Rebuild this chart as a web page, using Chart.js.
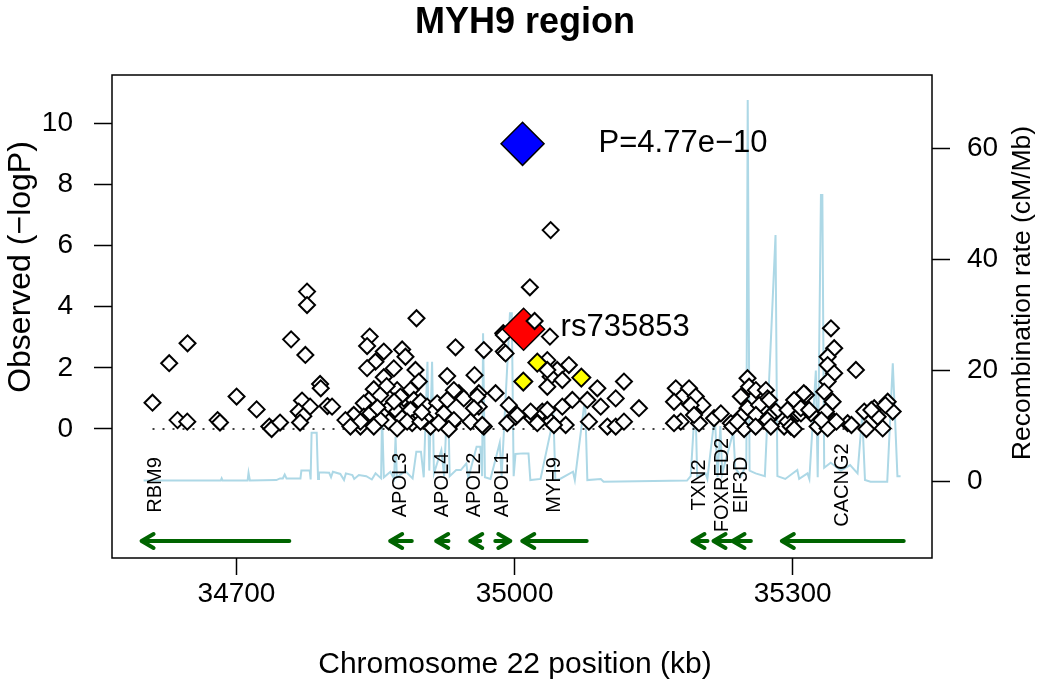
<!DOCTYPE html>
<html>
<head>
<meta charset="utf-8">
<script src="https://cdn.jsdelivr.net/npm/chart.js@4.4.0/dist/chart.umd.min.js"></script>
<style>
  html, body { margin: 0; padding: 0; background: #fff; }
  #wrap { width: 1050px; height: 693px; }
</style>
</head>
<body>
<div id="wrap"><canvas id="regionChart" width="1050" height="693"></canvas></div>
<script>
const FONT = "'Liberation Sans', Arial, Helvetica, sans-serif";

// Axis ticks
const xTicks = [34700, 35000, 35300];
const pTicks = [0, 2, 4, 6, 8, 10];
const rateTicks = [0, 20, 40, 60];

// Highlighted SNPs
const combinedPos = [35008.6];
const combinedLogP = [9.32];
const indexPos = [35009.7];
const indexLogP = [3.26];
const proxyPos = [35024.5, 35009.4, 35072.0];
const proxyLogP = [2.17, 1.55, 1.68];
const overlapPos = [35021.6];
const overlapLogP = [3.53];

// Other SNPs (position kb, -log10 P)
const snpPos = [
  34609.4, 34627.4, 34647.2, 34636.4, 34646.9, 34679.6, 34682.2, 34700.1, 34721.7, 34735.4,
  34737.9, 34747.0, 34758.9, 34774.3, 34776.1, 34776.1, 34790.2, 34790.9, 34770.7, 34779.4,
  34767.1, 34798.1, 34772.1, 34768.6, 34803.1,
  34894.2, 34843.7, 34840.9, 34858.9, 34878.7, 34882.3, 34849.9, 34840.9, 34869.7, 34893.1,
  34858.9, 34896.7, 34848.1, 34873.3, 34887.7, 34842.7, 34880.5, 34876.9, 34891.3, 34837.3,
  34866.1, 34898.5, 34905.7, 34916.5, 34824.7, 34837.3, 34826.5, 34844.5, 34873.3, 34887.7,
  34911.1, 34833.7, 34848.1, 34864.3, 34878.7, 34889.5, 34909.3, 34903.9, 34817.5, 34833.7,
  34855.3, 34884.1, 34898.5, 34822.9, 34848.1, 34873.3, 34923.7, 34927.3, 34936.3, 34939.9,
  34932.7, 34956.8, 34966.8, 34961.4, 34961.4, 34952.5, 34966.8, 34979.5, 34988.4, 34987.8,
  34993.8, 34992.1, 34934.5, 34927.3, 34945.2, 34959.7, 34956.1, 34934.5, 34965.1, 34929.0,
  34862.0, 34855.0, 34870.0, 34852.0, 34900.0, 34918.0,
  35038.9, 35016.5, 35038.1, 34988.4, 34990.3, 35035.3, 35058.6, 35046.0, 35038.9, 35051.5,
  35118.0, 35089.3, 35035.3, 35062.3, 35078.5, 35109.1, 35092.9, 35134.2, 35051.5, 35029.9,
  35001.1, 35019.1, 35038.9, 35055.1, 35080.2, 35100.1, 35109.1, 35118.0, 35002.9, 35017.3,
  35035.3, 35024.5, 35042.4, 35035.3,
  35173.9, 35181.1, 35188.2, 35172.0, 35195.5, 35202.7, 35189.9, 35179.3, 35199.0, 35193.6,
  35215.2, 35222.5, 35233.3, 35251.3, 35253.0, 35244.1, 35260.3, 35271.1, 35272.9, 35251.3,
  35263.8, 35244.1, 35260.3, 35281.9, 35274.7, 35247.6, 35235.0, 35290.8, 35301.6, 35305.3,
  35294.5, 35172.0, 35341.3, 35344.8, 35337.7, 35337.7, 35344.8, 35337.7, 35368.2, 35334.0,
  35343.1, 35335.9, 35344.8, 35359.3, 35314.3, 35308.9, 35319.7, 35377.2, 35388.0, 35402.5,
  35407.9, 35397.1, 35391.7, 35240.2, 35260.0, 35272.8, 35276.4, 35298.0, 35326.9, 35337.7,
  35312.0, 35294.4, 35308.8, 35317.8, 35331.0, 35347.2, 35363.4, 35384.9, 35400.0, 35379.5,
  35301.6, 35274.7
];
const snpLogP = [
  0.86, 2.15, 2.80, 0.29, 0.24, 0.29, 0.21, 1.06, 0.64, 0.08,
  0.00, 0.21, 2.93, 2.42, 4.49, 4.05, 1.47, 1.33, 0.93, 0.73,
  0.57, 0.75, 0.42, 0.21, 0.73,
  3.62, 3.02, 2.71, 2.53, 2.60, 2.36, 2.20, 1.99, 1.98, 1.93,
  1.69, 1.55, 1.30, 1.27, 1.27, 0.95, 1.00, 1.06, 0.95, 0.84,
  0.73, 0.89, 0.73, 0.84, 0.40, 0.40, 0.46, 0.51, 0.57, 0.62,
  0.51, 0.08, 0.13, 0.24, 0.35, 0.19, 0.08, 0.35, 0.29, 0.24,
  0.29, 0.24, 0.24, 0.08, 0.08, 0.02, 0.51, 1.73, 2.67, 1.17,
  0.19, 1.76, 2.58, 1.17, 0.73, 0.24, 0.08, 1.17, 2.53, 3.13,
  0.78, 0.19, 1.27, 0.95, 1.00, 1.06, 0.68, 0.29, 0.13, 0.00,
  1.40, 1.10, 0.90, 0.70, 0.55, 0.20,
  6.50, 4.63, 3.02, 3.07, 2.47, 2.25, 2.09, 1.93, 1.71, 1.60,
  1.55, 1.33, 1.38, 0.95, 0.95, 1.00, 0.73, 0.68, 0.73, 0.57,
  0.40, 0.35, 0.24, 0.13, 0.24, 0.08, 0.08, 0.24, 0.46, 0.57,
  0.62, 0.19, 0.13, 1.93,
  1.33, 1.06, 1.33, 0.89, 1.06, 0.78, 0.78, 0.24, 0.19, 0.46,
  0.35, 0.51, 0.19, 1.66, 1.38, 1.06, 1.27, 1.27, 1.00, 0.68,
  0.78, 0.40, 0.46, 0.57, 0.40, 0.00, 0.08, 0.08, 0.95, 0.51,
  0.24, 0.19, 3.29, 2.64, 2.36, 2.09, 1.82, 1.55, 1.93, 1.22,
  0.89, 0.57, 0.24, 0.19, 1.11, 0.51, 0.51, 0.57, 0.68, 0.89,
  0.57, 0.02, 0.40, 0.24, 0.08, 0.29, 0.08, 0.08, 0.08, 0.02,
  1.17, 0.62, 0.68, 0.62, 0.29, 0.24, 0.13, 0.62, 0.78, 0.00,
  0.00, 0.95
];

// Recombination rate (position kb, cM/Mb)
const ratePos = [
  34599.8, 34683.0, 34684.0, 34685.0, 34712.0, 34713.0, 34714.5, 34743.0, 34747.0, 34750.0,
  34752.0, 34754.0, 34769.0, 34770.0, 34779.0, 34780.0, 34781.0, 34786.5, 34788.0, 34789.0,
  34800.0, 34802.0, 34804.0, 34812.0, 34816.0, 34818.0, 34825.0, 34827.0, 34832.0, 34840.0,
  34846.0, 34850.0, 34856.0, 34857.0, 34859.0, 34866.0, 34870.0, 34871.6, 34873.0, 34882.0,
  34890.0, 34894.0, 34899.0, 34902.0, 34906.0, 34908.0, 34911.0, 34913.0, 34921.0, 34924.0,
  34928.0, 34930.0, 34937.0, 34942.0, 34948.0, 34950.0, 34959.0, 34963.0, 34965.0, 34966.0,
  34968.0, 34974.0, 34984.0, 34986.0, 34995.0, 34997.0, 34999.0, 35001.0, 35009.0, 35015.0,
  35017.0, 35028.0, 35042.0, 35044.0, 35049.0, 35063.0, 35065.0, 35076.0, 35078.5, 35093.0,
  35096.0, 35186.0, 35190.0, 35195.0, 35197.0, 35206.0, 35208.0, 35216.0, 35219.0, 35222.0,
  35224.0, 35236.0, 35238.0, 35244.0, 35250.0, 35251.5, 35253.5, 35260.0, 35270.0, 35281.5,
  35283.5, 35292.0, 35305.0, 35307.0, 35316.0, 35318.0, 35325.0, 35327.0, 35330.5, 35332.0,
  35334.0, 35341.0, 35352.0, 35362.0, 35370.0, 35375.0, 35378.0, 35384.0, 35402.0, 35408.0,
  35413.0, 35416.4
];
const rateVal = [
  0.2, 0.2, 0.6, 0.2, 0.2, 1.6, 0.2, 0.3, 0.6, 0.6,
  1.3, 0.6, 0.6, 2.0, 2.0, 0.4, 8.8, 8.8, 0.5, 1.7,
  1.6, 0.8, 1.8, 1.4, 0.3, 1.5, 1.2, 0.5, 1.2, 1.0,
  0.4, 1.5, 0.6, 12.3, 0.8, 1.8, 0.5, 8.1, 0.8, 1.9,
  0.6, 5.4, 5.4, 0.8, 21.6, 2.0, 21.6, 1.5, 5.7, 1.0,
  17.1, 1.0, 2.1, 2.1, 3.3, 0.6, 6.3, 6.3, 1.0, 26.7,
  0.8, 0.5, 7.0, 1.0, 30.3, 30.3, 1.0, 5.0, 5.1, 5.1,
  0.3, 0.5, 11.5, 0.3, 0.5, 1.8, 0.3, 15.0, 0.3, 0.5,
  0.0, 0.2, 1.0, 15.0, 1.0, 1.5, 0.5, 12.0, 0.8, 10.0,
  1.5, 9.0, 2.5, 1.0, 3.0, 68.7, 2.0, 1.5, 1.0, 44.4,
  1.0, 0.5, 2.1, 0.5, 1.5, 0.5, 20.0, 0.8, 51.6, 51.6,
  2.5, 3.4, 2.0, 3.0, 1.5, 12.0, 0.3, 0.0, 0.0, 21.3,
  1.0, 1.0
];

// Genes (kb), direction -1 = leftward
const geneNames = ['RBM9', 'APOL3', 'APOL4', 'APOL2', 'APOL1', 'MYH9', 'TXN2', 'FOXRED2', 'EIF3D', 'CACNG2'];
const geneStart = [34597.6, 34865.8, 34915.4, 34952.2, 34979.2, 35008.3, 35191.9, 35214.6, 35235.1, 35288.3];
const geneEnd   = [34757.0, 34889.1, 34928.7, 34962.9, 34995.4, 35077.8, 35208.1, 35233.3, 35254.9, 35419.8];
const geneDir   = [-1, -1, -1, -1, 1, -1, -1, -1, -1, -1];
const geneLabelPos = [34613.0, 34877.0, 34922.0, 34957.0, 34987.0, 35043.0, 35200.0, 35224.0, 35245.0, 35354.0];

const toXY = (xs, ys) => xs.map((v, i) => ({ x: v, y: ys[i] }));

const allPos = snpPos.concat(combinedPos, indexPos, proxyPos);
const zeroLine = [{ x: Math.min(...allPos), y: 0 }, { x: Math.max(...allPos), y: 0 }];

const GENE_ROW = -3.66;
const LABEL_ROW = -1.83;

const annotationPlugin = {
    id: 'annotations',
    afterDraw(chart) {
        const { ctx, chartArea: a, scales } = chart;
        const x = scales.x, y = scales.y;
        ctx.save();

        // plot frame
        ctx.strokeStyle = '#000';
        ctx.lineWidth = 1.5;
        ctx.strokeRect(a.left, a.top, a.right - a.left, a.bottom - a.top);

        // gene arrows
        ctx.strokeStyle = '#006400';
        ctx.lineWidth = 4;
        ctx.lineCap = 'round';
        ctx.lineJoin = 'round';
        const gy = y.getPixelForValue(GENE_ROW);
        geneNames.forEach((g, i) => {
            const x1 = x.getPixelForValue(geneStart[i]);
            const x2 = x.getPixelForValue(geneEnd[i]);
            const tip = geneDir[i] < 0 ? x1 : x2;
            const back = geneDir[i] < 0 ? 12 : -12;
            ctx.beginPath();
            ctx.moveTo(x1, gy);
            ctx.lineTo(x2, gy);
            ctx.moveTo(tip + back, gy - 7);
            ctx.lineTo(tip, gy);
            ctx.lineTo(tip + back, gy + 7);
            ctx.stroke();
        });

        // gene labels
        ctx.fillStyle = '#000';
        ctx.font = '20px ' + FONT;
        ctx.textAlign = 'center';
        ctx.textBaseline = 'middle';
        const ly = y.getPixelForValue(LABEL_ROW);
        geneNames.forEach((g, i) => {
            ctx.save();
            ctx.translate(x.getPixelForValue(geneLabelPos[i]), ly);
            ctx.rotate(-Math.PI / 2);
            ctx.fillText(g, 0, 0);
            ctx.restore();
        });

        // point annotations
        ctx.font = '31px ' + FONT;
        ctx.textAlign = 'left';
        ctx.fillText('P=4.77e\u221210', x.getPixelForValue(combinedPos[0]) + 76, y.getPixelForValue(combinedLogP[0]));
        ctx.fillText('rs735853', x.getPixelForValue(indexPos[0]) + 37, y.getPixelForValue(indexLogP[0]) - 2);

        // axis titles
        ctx.font = '30px ' + FONT;
        ctx.textAlign = 'center';
        ctx.fillText('Chromosome 22 position (kb)', 515, 665);
        ctx.save();
        ctx.font = '32px ' + FONT;
        ctx.translate(21, 267);
        ctx.rotate(-Math.PI / 2);
        ctx.fillText('Observed (\u2212logP)', 0, 0);
        ctx.restore();
        ctx.save();
        ctx.font = '26.5px ' + FONT;
        ctx.translate(1023, 293);
        ctx.rotate(-Math.PI / 2);
        ctx.fillText('Recombination rate (cM/Mb)', 0, 0);
        ctx.restore();

        ctx.restore();
    }
};

const tickFont = { family: FONT, size: 28 };

const regionChart = new Chart(document.getElementById('regionChart'), {
    type: 'scatter',
    data: {
        datasets: [
            {
                label: 'combined',
                data: toXY(combinedPos, combinedLogP),
                pointStyle: 'rectRot',
                pointRadius: 21.5,
                backgroundColor: '#0000FF',
                borderColor: '#000',
                borderWidth: 1.5
            },
            {
                label: 'proxy',
                data: toXY(proxyPos, proxyLogP),
                pointStyle: 'rectRot',
                pointRadius: 9,
                backgroundColor: '#FFFF00',
                borderColor: '#000',
                borderWidth: 2
            },
            {
                label: 'overlap',
                data: toXY(overlapPos, overlapLogP),
                pointStyle: 'rectRot',
                pointRadius: 8,
                backgroundColor: '#fff',
                borderColor: '#000',
                borderWidth: 2
            },
            {
                label: 'rs735853',
                data: toXY(indexPos, indexLogP),
                pointStyle: 'rectRot',
                pointRadius: 21,
                backgroundColor: '#FF0000',
                borderColor: '#000',
                borderWidth: 1.5
            },
            {
                label: 'snps',
                data: toXY(snpPos, snpLogP),
                pointStyle: 'rectRot',
                pointRadius: 8,
                backgroundColor: '#fff',
                borderColor: '#000',
                borderWidth: 2
            },
            {
                label: 'zero',
                type: 'line',
                data: zeroLine,
                borderColor: '#000',
                borderWidth: 1.5,
                borderDash: [2, 8],
                pointRadius: 0,
                showLine: true
            },
            {
                label: 'recombination',
                type: 'line',
                yAxisID: 'y2',
                data: toXY(ratePos, rateVal),
                borderColor: '#ADD8E6',
                borderWidth: 2,
                pointRadius: 0,
                tension: 0,
                showLine: true
            }
        ]
    },
    options: {
        responsive: false,
        devicePixelRatio: 1,
        animation: false,
        events: [],
        layout: { padding: 0 },
        plugins: {
            legend: { display: false },
            tooltip: { enabled: false },
            title: {
                display: true,
                text: 'MYH9 region',
                color: '#000',
                font: { family: FONT, size: 36, weight: 'bold' },
                padding: { top: 1, bottom: 30.8 }
            }
        },
        scales: {
            x: {
                type: 'linear',
                min: 34565.7,
                max: 35450.3,
                afterBuildTicks: s => { s.ticks = xTicks.map(v => ({ value: v })); },
                afterFit: s => { s.height = 135; },
                grid: { drawOnChartArea: false, tickLength: 17, tickColor: '#000', tickWidth: 1.5 },
                border: { display: false },
                ticks: { color: '#000', font: tickFont, padding: 2, maxRotation: 0, autoSkip: false, callback: v => String(v) }
            },
            y: {
                type: 'linear',
                position: 'left',
                min: -4.216,
                max: 11.569,
                afterBuildTicks: s => { s.ticks = pTicks.map(v => ({ value: v })); },
                afterFit: s => { s.width = 112; },
                grid: { drawOnChartArea: false, tickLength: 18, tickColor: '#000', tickWidth: 1.5 },
                border: { display: false },
                ticks: { color: '#000', font: tickFont, padding: 21, autoSkip: false, callback: v => String(v) }
            },
            y2: {
                type: 'linear',
                position: 'right',
                min: -13.73,
                max: 73.2,
                afterBuildTicks: s => { s.ticks = rateTicks.map(v => ({ value: v })); },
                afterFit: s => { s.width = 118; },
                grid: { drawOnChartArea: false, tickLength: 18, tickColor: '#000', tickWidth: 1.5 },
                border: { display: false },
                ticks: { color: '#000', font: tickFont, padding: 17, autoSkip: false, callback: v => String(v) }
            }
        }
    },
    plugins: [annotationPlugin]
});
</script>
</body>
</html>
